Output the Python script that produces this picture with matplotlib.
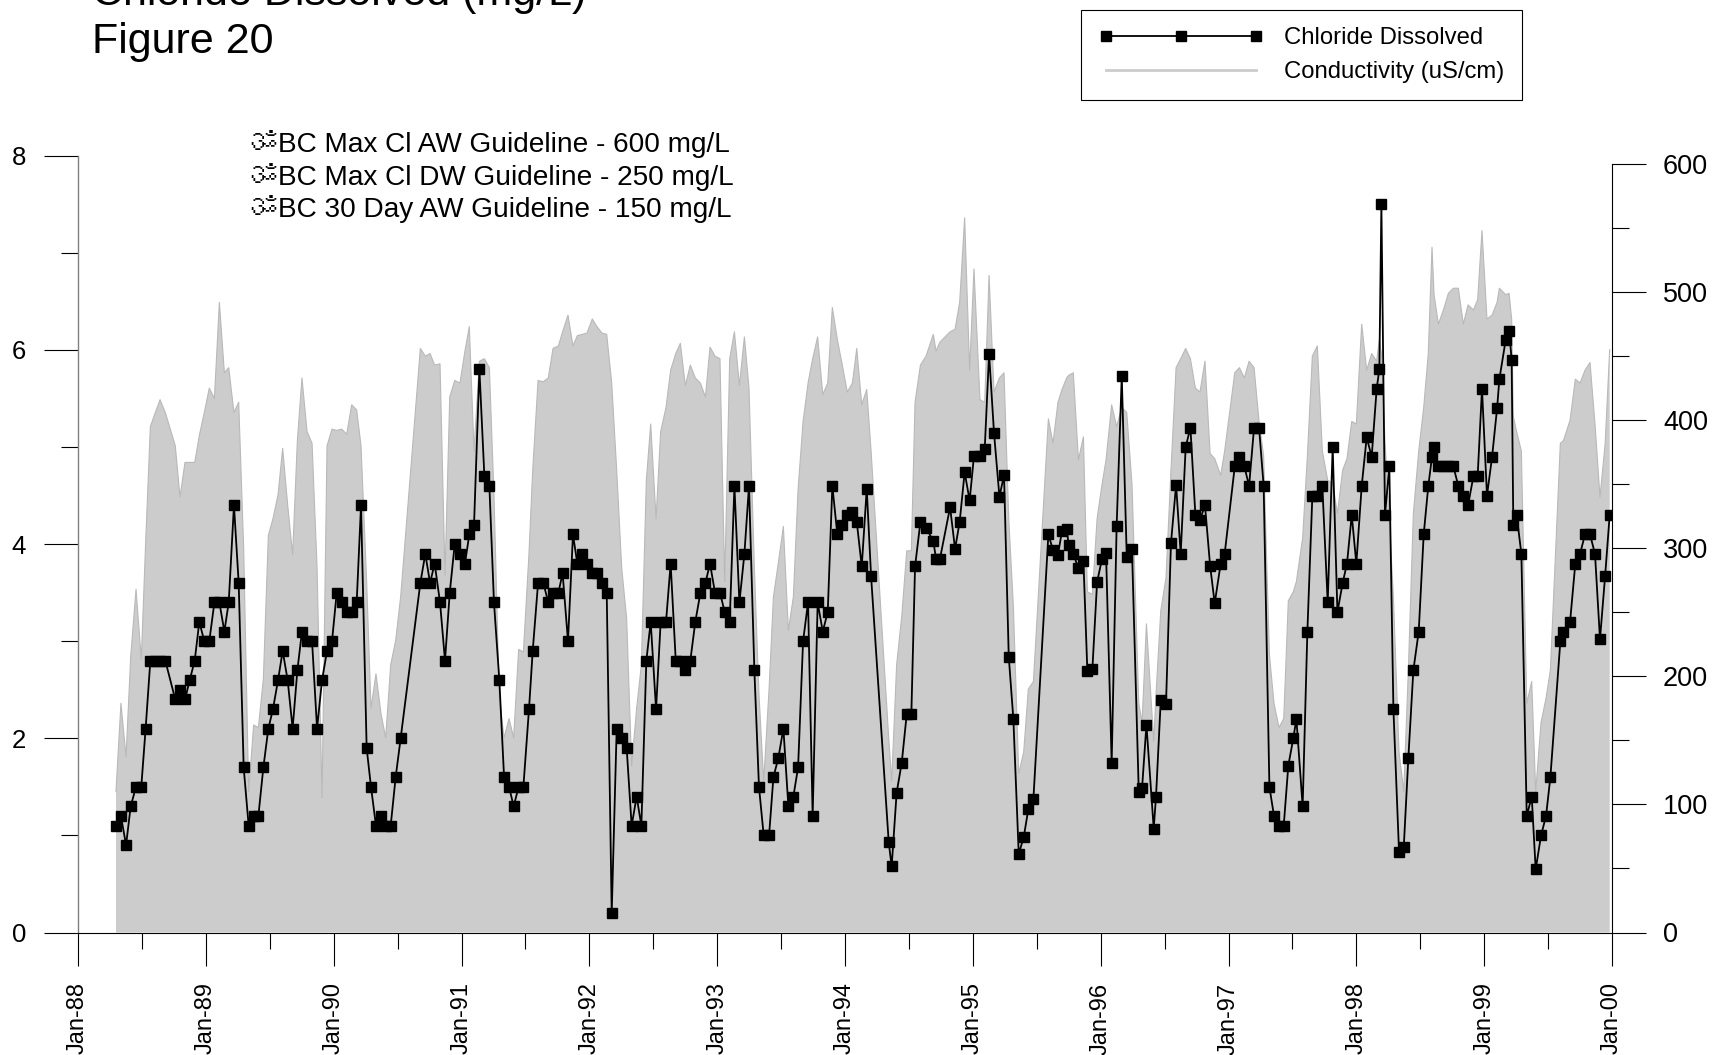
import matplotlib
matplotlib.use("Agg")
import matplotlib.pyplot as plt
from matplotlib.lines import Line2D
from matplotlib.ticker import FixedLocator
from matplotlib import font_manager
from matplotlib.ft2font import FT2Font

# ---------------- data ----------------
sample_year = [
    1988.297, 1988.336, 1988.376, 1988.412, 1988.454, 1988.495, 1988.529, 1988.566, 1988.605, 1988.642,
    1988.683, 1988.761, 1988.798, 1988.837, 1988.874, 1988.913, 1988.949, 1988.988,
    1989.027, 1989.067, 1989.106, 1989.145, 1989.179, 1989.220, 1989.257, 1989.296, 1989.335, 1989.374,
    1989.411, 1989.450, 1989.489, 1989.525, 1989.565, 1989.601, 1989.640, 1989.679, 1989.716, 1989.752,
    1989.792, 1989.831, 1989.870, 1989.909, 1989.948, 1989.987,
    1990.024, 1990.063, 1990.102, 1990.141, 1990.180,
    1990.214, 1990.258, 1990.292, 1990.331, 1990.370, 1990.407, 1990.446, 1990.485, 1990.524, 1990.678,
    1990.717, 1990.754, 1990.790, 1990.832, 1990.871, 1990.908, 1990.947, 1990.988,
    1991.027, 1991.061, 1991.098, 1991.140, 1991.179, 1991.218, 1991.254, 1991.296, 1991.333, 1991.372,
    1991.408, 1991.447, 1991.484, 1991.528, 1991.557, 1991.599, 1991.640, 1991.679, 1991.716, 1991.758,
    1991.791, 1991.833, 1991.872, 1991.906, 1991.945, 1991.982,
    1992.023, 1992.060, 1992.099, 1992.136,
    1992.175, 1992.214, 1992.253, 1992.292, 1992.331, 1992.370, 1992.407, 1992.446, 1992.480, 1992.522,
    1992.558, 1992.600, 1992.636, 1992.676, 1992.712, 1992.751, 1992.790, 1992.829, 1992.869, 1992.908,
    1992.944, 1992.983,
    1993.022, 1993.059, 1993.098, 1993.135, 1993.174, 1993.213, 1993.249, 1993.291, 1993.327, 1993.364,
    1993.406, 1993.440, 1993.479, 1993.518, 1993.557, 1993.596, 1993.633, 1993.672, 1993.711, 1993.747,
    1993.786, 1993.826, 1993.865, 1993.901, 1993.940, 1993.979,
    1994.018, 1994.058, 1994.092,
    1994.131, 1994.170, 1994.204, 1994.342, 1994.365, 1994.404, 1994.444, 1994.483, 1994.519, 1994.548,
    1994.590, 1994.634, 1994.691, 1994.712, 1994.743, 1994.822, 1994.861, 1994.897, 1994.936, 1994.975,
    1995.009, 1995.056, 1995.093, 1995.127, 1995.166, 1995.208, 1995.244, 1995.281, 1995.317, 1995.359,
    1995.398, 1995.434, 1995.474, 1995.591, 1995.627, 1995.666, 1995.698, 1995.734, 1995.750, 1995.786,
    1995.826, 1995.865, 1995.896, 1995.935, 1995.972,
    1996.011, 1996.042,
    1996.086, 1996.125, 1996.165, 1996.204, 1996.245, 1996.298, 1996.324, 1996.358, 1996.415, 1996.433,
    1996.470, 1996.511, 1996.550, 1996.590, 1996.626, 1996.665, 1996.702, 1996.741, 1996.777, 1996.816,
    1996.856, 1996.892, 1996.939, 1996.970,
    1997.049, 1997.085, 1997.124, 1997.161, 1997.200, 1997.239, 1997.275, 1997.320, 1997.356, 1997.395,
    1997.432, 1997.468, 1997.507, 1997.531, 1997.580, 1997.617, 1997.656, 1997.695, 1997.734, 1997.776,
    1997.815, 1997.852, 1997.893, 1997.927, 1997.964,
    1998.000,
    1998.042, 1998.081, 1998.120, 1998.159, 1998.180, 1998.196, 1998.224, 1998.258, 1998.290, 1998.334,
    1998.371, 1998.407, 1998.446, 1998.488, 1998.527, 1998.563, 1998.592, 1998.608, 1998.642, 1998.681,
    1998.720, 1998.759, 1998.798, 1998.837, 1998.874, 1998.916, 1998.949, 1998.983,
    1999.022, 1999.062, 1999.101, 1999.119, 1999.168, 1999.195, 1999.215, 1999.228, 1999.254, 1999.291,
    1999.333, 1999.372, 1999.403, 1999.445, 1999.484, 1999.518, 1999.596, 1999.620, 1999.672, 1999.713,
    1999.750, 1999.789, 1999.828, 1999.867, 1999.906, 1999.946, 1999.982,
]

chloride_mg_l = [
    1.10, 1.20, 0.90, 1.30, 1.50, 1.50, 2.10, 2.80, 2.80, 2.80, 2.80, 2.40, 2.50, 2.40, 2.60, 2.80, 3.20, 3.00,
    3.00, 3.40, 3.40, 3.10, 3.40, 4.40, 3.60, 1.70, 1.10, 1.20, 1.20, 1.70, 2.10, 2.30, 2.60, 2.90, 2.60, 2.10,
    2.70, 3.10, 3.00, 3.00, 2.10, 2.60, 2.90, 3.00,
    3.50, 3.40, 3.30, 3.30, 3.40,
    4.40, 1.90, 1.50, 1.10, 1.20, 1.10, 1.10, 1.60, 2.00, 3.60, 3.90, 3.60, 3.80, 3.40, 2.80, 3.50, 4.00, 3.90,
    3.80, 4.10, 4.20, 5.80, 4.70, 4.60, 3.40, 2.60, 1.60, 1.50, 1.30, 1.50, 1.50, 2.30, 2.90, 3.60, 3.60, 3.40,
    3.50, 3.50, 3.70, 3.00, 4.10, 3.80, 3.90, 3.80,
    3.70, 3.70, 3.60, 3.50,
    0.20, 2.10, 2.00, 1.90, 1.10, 1.40, 1.10, 2.80, 3.20, 2.30, 3.20, 3.20, 3.80, 2.80, 2.80, 2.70, 2.80, 3.20,
    3.50, 3.60, 3.80, 3.50,
    3.50, 3.30, 3.20, 4.60, 3.40, 3.90, 4.60, 2.70, 1.50, 1.00, 1.00, 1.60, 1.80, 2.10, 1.30, 1.40, 1.70, 3.00,
    3.40, 1.20, 3.40, 3.10, 3.30, 4.60, 4.10, 4.20,
    4.30, 4.33, 4.23,
    3.77, 4.57, 3.67, 0.93, 0.68, 1.44, 1.75, 2.25, 2.25, 3.77, 4.23, 4.17, 4.03, 3.85, 3.85, 4.38, 3.95, 4.23,
    4.74, 4.45,
    4.91, 4.91, 4.98, 5.96, 5.14, 4.49, 4.71, 2.84, 2.20, 0.81, 0.98, 1.27, 1.38, 4.10, 3.94, 3.89, 4.14, 4.16,
    3.99, 3.90, 3.75, 3.83, 2.69, 2.71, 3.61,
    3.85, 3.91,
    1.75, 4.19, 5.73, 3.87, 3.95, 1.45, 1.49, 2.14, 1.07, 1.40, 2.39, 2.35, 4.01, 4.61, 3.90, 5.00, 5.20, 4.30,
    4.25, 4.40, 3.78, 3.39, 3.80, 3.90,
    4.80, 4.90, 4.80, 4.60, 5.20, 5.20, 4.60, 1.50, 1.20, 1.10, 1.10, 1.72, 2.00, 2.20, 1.30, 3.10, 4.50, 4.50,
    4.60, 3.40, 5.00, 3.30, 3.60, 3.80, 4.30,
    3.80,
    4.60, 5.10, 4.90, 5.60, 5.80, 7.50, 4.30, 4.80, 2.30, 0.83, 0.88, 1.80, 2.70, 3.10, 4.10, 4.60, 4.90, 5.00,
    4.80, 4.80, 4.80, 4.80, 4.60, 4.50, 4.40, 4.70, 4.70, 5.60,
    4.50, 4.90, 5.40, 5.70, 6.10, 6.20, 5.90, 4.20, 4.30, 3.90, 1.20, 1.40, 0.65, 1.00, 1.20, 1.60, 3.00, 3.10,
    3.20, 3.80, 3.90, 4.10, 4.10, 3.90, 3.02, 3.67, 4.30,
]

conductivity_us_cm = [
    110, 179, 137, 215, 268, 213, 304, 395, 406, 416, 406, 380, 340, 367, 367, 367, 388, 406,
    425, 417, 492, 437, 441, 406, 414, 300, 110, 162, 160, 198, 310, 323, 342, 378, 334, 295,
    384, 433, 391, 382, 285, 105, 380, 393,
    392, 393, 389, 412, 408,
    380, 274, 175, 202, 171, 152, 209, 228, 262, 456, 450, 452, 443, 444, 279, 418, 431, 429,
    454, 473, 376, 446, 448, 441, 342, 183, 152, 167, 152, 221, 219, 296, 361, 431, 430, 433,
    456, 458, 469, 482, 458, 466, 467, 468,
    479, 473, 468, 467,
    429, 361, 285, 245, 130, 175, 209, 353, 397, 323, 391, 410, 439, 452, 460, 427, 443, 433,
    429, 418, 457, 450,
    448, 274, 448, 469, 427, 465, 425, 285, 186, 118, 190, 262, 289, 317, 236, 262, 346, 399,
    429, 448, 465, 420, 429, 488, 463, 443,
    422, 429, 456,
    412, 424, 376, 152, 118, 209, 247, 298, 298, 414, 443, 450, 467, 454, 461, 469, 471, 492,
    558, 439,
    518, 416, 414, 513, 422, 433, 437, 323, 255, 124, 141, 190, 196, 401, 382, 414, 424, 433,
    435, 437, 369, 387, 266, 264, 323,
    350, 369,
    412, 395, 410, 406, 350, 179, 164, 241, 149, 186, 251, 277, 361, 441, 448, 456, 448, 425,
    422, 446, 374, 370, 357, 376,
    437, 441, 433, 446, 441, 399, 372, 217, 179, 160, 167, 259, 266, 274, 308, 372, 450, 458,
    376, 353, 351, 327, 361, 370, 399,
    397,
    475, 439, 452, 446, 463, 452, 384, 323, 262, 141, 110, 205, 327, 376, 410, 452, 535, 498,
    475, 486, 499, 503, 503, 475, 490, 486, 494, 548,
    479, 482, 492, 503, 498, 499, 479, 403, 391, 376, 179, 196, 110, 164, 183, 205, 382, 384,
    400, 432, 429, 439, 445, 397, 340, 381, 455,
]

assert len(sample_year) == len(chloride_mg_l) == len(conductivity_us_cm)

year_ticks = list(range(1988, 2001))
year_labels = ["Jan-88", "Jan-89", "Jan-90", "Jan-91", "Jan-92", "Jan-93", "Jan-94",
               "Jan-95", "Jan-96", "Jan-97", "Jan-98", "Jan-99", "Jan-00"]
half_year_ticks = [y + 0.5 for y in range(1988, 2000)]
left_major = [0, 2, 4, 6, 8]
left_minor = [1, 3, 5, 7]
right_major = [0, 100, 200, 300, 400, 500, 600]
right_minor = [50, 150, 250, 350, 450, 550]
title_lines = ["Chloride Dissolved (mg/L)", "Figure 20"]
guideline_lines = ["\u0950BC Max Cl AW Guideline - 600 mg/L",
                   "\u0950BC Max Cl DW Guideline - 250 mg/L",
                   "\u0950BC 30 Day AW Guideline - 150 mg/L"]
legend_labels = ["Chloride Dissolved", "Conductivity (uS/cm)"]

# ---------------- fonts ----------------
om_family = None
for fe in font_manager.fontManager.ttflist:
    try:
        if 0x0950 in FT2Font(fe.fname).get_charmap():
            om_family = fe.name
            break
    except Exception:
        pass
families = ["Liberation Sans"] + ([om_family] if om_family else []) + ["DejaVu Sans"]
plt.rcParams["font.family"] = families

# ---------------- figure ----------------
W, H = 1720, 1055
DPI = 100
fig = plt.figure(figsize=(W / DPI, H / DPI), dpi=DPI)
ax = fig.add_axes([78 / W, 122.5 / H, 1534 / W, 776.7 / H])
ax2 = ax.twinx()
ax.set_zorder(2)
ax2.set_zorder(1)
ax.patch.set_visible(False)

fill_col = "#cccccc"
ax2.fill_between(sample_year, conductivity_us_cm, 0, facecolor=fill_col, edgecolor="none", lw=0)
ax2.plot(sample_year, conductivity_us_cm, color="#b9b9b9", lw=0.8)
ax2.set_ylim(0, 606.4)

ax.plot(sample_year, chloride_mg_l, color="black", lw=1.3, marker="s", ms=6.8,
        mfc="black", mec="black")
ax.set_xlim(1988, 2000)
ax.set_ylim(0, 8)

# spines
for s in ["top", "right"]:
    ax.spines[s].set_visible(False)
for s in ["top", "left", "bottom"]:
    ax2.spines[s].set_visible(False)
ax2.spines["right"].set_bounds(0, 600)
ax.spines["left"].set_color("#808080")
ax.spines["left"].set_linewidth(1.0)
ax.spines["bottom"].set_color("black")
ax.spines["bottom"].set_linewidth(0.8)
ax2.spines["right"].set_color("black")
ax2.spines["right"].set_linewidth(0.8)

# x ticks
ax.xaxis.set_major_locator(FixedLocator(year_ticks))
ax.set_xticklabels(year_labels, rotation=90, fontsize=17)
ax.xaxis.set_minor_locator(FixedLocator(half_year_ticks))
ax.xaxis.set_tick_params(which="major", direction="out", length=24, width=0.8, pad=12)
ax.xaxis.set_tick_params(which="minor", direction="out", length=11.5, width=0.8)

# left y ticks
ax.yaxis.set_major_locator(FixedLocator(left_major))
ax.yaxis.set_minor_locator(FixedLocator(left_minor))
ax.yaxis.set_tick_params(which="major", direction="out", length=24.5, width=0.8, pad=13, labelsize=18.5)
ax.yaxis.set_tick_params(which="minor", direction="out", length=12, width=0.8)

# right y ticks
ax2.yaxis.set_major_locator(FixedLocator(right_major))
ax2.yaxis.set_minor_locator(FixedLocator(right_minor))
ax2.yaxis.set_tick_params(which="major", direction="out", length=24.7, width=0.8, pad=12,
                          labelsize=19.5, right=True, labelright=True)
ax2.yaxis.set_tick_params(which="minor", direction="out", length=12.5, width=0.8, right=True)

# titles
fig.text(92 / W, 1 - 5.5 / H, title_lines[0], fontsize=31, va="baseline", ha="left")
fig.text(92 / W, 1 - 52.7 / H, title_lines[1], fontsize=31, va="baseline", ha="left")

# guideline notes
for i, line in enumerate(guideline_lines):
    fig.text(250 / W, 1 - (152.5 + 32.3 * i) / H, line, fontsize=20.2, va="baseline", ha="left")

# legend
handles = [Line2D([], [], color="black", lw=1.3, marker="s", ms=6.8),
           Line2D([], [], color=fill_col, lw=2.0)]
leg = fig.legend(handles, legend_labels, loc="upper left",
                 bbox_to_anchor=(1081 / W, 1 - 9.5 / H), bbox_transform=fig.transFigure,
                 frameon=True, fancybox=False, edgecolor="black", framealpha=1,
                 fontsize=17.2, handlelength=6.9, handletextpad=0.87, borderpad=0.73,
                 labelspacing=0.5, borderaxespad=0, numpoints=3)
leg.get_frame().set_linewidth(0.8)

# make sure the right-hand tick labels start where the reference has them (x ~ 1664 px)
fig.canvas.draw()
renderer = fig.canvas.get_renderer()
labs = [t for t in ax2.yaxis.get_ticklabels() if t.get_visible() and t.get_text()]
if labs:
    x0 = min(t.get_window_extent(renderer).x0 for t in labs)
    delta_px = 1664 - x0
    if abs(delta_px) > 2:
        ax2.yaxis.set_tick_params(which="major", pad=12 + delta_px * 72 / DPI)

fig.savefig("out.png", dpi=DPI)
